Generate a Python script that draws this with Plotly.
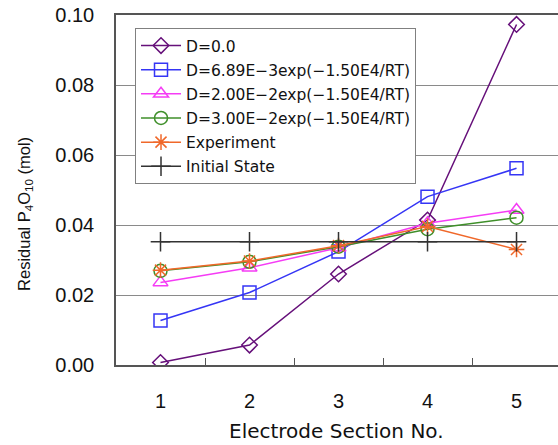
import plotly.graph_objects as go

sections = ["1", "2", "3", "4", "5"]
d0 = [0.0007, 0.0057, 0.0260, 0.0414, 0.0973]
d689 = [0.0127, 0.0207, 0.0324, 0.0481, 0.0562]
d200 = [0.0236, 0.0278, 0.0335, 0.0405, 0.0443]
d300 = [0.0269, 0.0295, 0.0338, 0.0388, 0.0421]
experiment = [0.0271, 0.0297, 0.0341, 0.0396, 0.0330]
initial = [0.0352, 0.0352, 0.0352, 0.0352, 0.0352]

names = [
    "D=0.0",
    "D=6.89E\u22123exp(\u22121.50E4/RT)",
    "D=2.00E\u22122exp(\u22121.50E4/RT)",
    "D=3.00E\u22122exp(\u22121.50E4/RT)",
    "Experiment",
    "Initial State",
]
series = [d0, d689, d200, d300, experiment, initial]
colors = ["#66107a", "#3535f5", "#f53cf5", "#3f8f2a", "#f0682a", "#333333"]
symbols = ["diamond-open", "square-open", "triangle-up-open", "circle-open",
           "asterisk-open", "cross-thin-open"]
sizes = [12, 13, 13, 13, 13, 14]

fig = go.Figure()
for i, (name, ys, c, s, sz) in enumerate(zip(names, series, colors, symbols, sizes)):
    fig.add_trace(go.Scatter(
        x=sections, y=ys, name=name, mode="lines+markers", legendgroup=f"g{i}",
        line=dict(color=c, width=1.5),
        marker=dict(symbol=s, size=sz, color=c, line=dict(color=c, width=1.5)),
    ))

fig.update_layout(
    width=558, height=445,
    margin=dict(l=116, r=0, t=15, b=80),
    paper_bgcolor="white", plot_bgcolor="white",
    showlegend=True,
    legend=dict(
        x=0.043, y=0.963, xanchor="left", yanchor="top",
        bgcolor="white", bordercolor="#808080", borderwidth=1,
        font=dict(family="DejaVu Sans", size=15.5, color="#111111"),
        itemwidth=40, tracegroupgap=1,
    ),
    font=dict(family="Liberation Sans, Arial", color="#111111"),
    annotations=[
        dict(
            text="Residual P<sub>4</sub>O<sub>10</sub> (mol)",
            xref="paper", yref="paper", x=-0.206, y=0.5, yshift=-24,
            xanchor="center", yanchor="middle", textangle=-90, showarrow=False,
            font=dict(size=16.5, color="#111111"),
        ),
        dict(
            text="Electrode Section No.",
            xref="paper", yref="paper", x=0.499, y=-0.1886,
            xanchor="center", yanchor="middle", showarrow=False, borderpad=0,
            font=dict(family="DejaVu Sans", size=20, color="#111111"),
        ),
    ],
)
fig.update_xaxes(
    type="category", range=[-0.5, 4.466],
    tickson="boundaries", ticks="inside", ticklen=7, tickcolor="#555555",
    showgrid=False, showline=True, linecolor="#555555", linewidth=1.5, mirror=True,
    tickfont=dict(size=20), ticklabelstandoff=17,
    automargin=False,
)
fig.update_yaxes(
    range=[0, 0.1], tickvals=[0, 0.02, 0.04, 0.06, 0.08, 0.10],
    ticktext=["0.00", "0.02", "0.04", "0.06", "0.08", "0.10"],
    showgrid=True, gridcolor="#8a8a8a", gridwidth=1,
    showline=True, linecolor="#555555", linewidth=1.5, mirror=False,
    zeroline=False, ticks="",
    tickfont=dict(size=20), ticklabelstandoff=16,
    automargin=False,
)

fig.write_html("out.html")
